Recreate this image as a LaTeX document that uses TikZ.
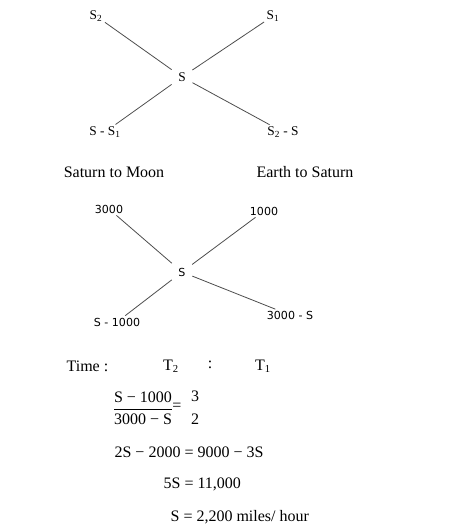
\documentclass[tikz,border=0pt]{standalone}
\usepackage{fontspec}
\setmainfont{Liberation Serif}
\newfontfamily\labelsans{DejaVu Sans}
\usetikzlibrary{positioning}
\definecolor{ink}{HTML}{000000}
\definecolor{legc}{HTML}{4D4D4D}

\begin{document}
\begin{tikzpicture}[
  x=0.75pt, y=-0.75pt,
  every node/.style={font=\fontsize{12}{14}\selectfont, color=ink, inner sep=1pt},
  tag/.style={font=\fontsize{10}{12}\selectfont, inner sep=0.5pt},
  numtag/.style={font=\labelsans\fontsize{8.3}{10}\selectfont, inner sep=0.5pt},
  hub/.style={inner sep=4pt},
  leg/.style={draw=legc, line width=0.6pt, shorten <=1.5pt, shorten >=1pt}
]
\useasboundingbox (0,0) rectangle (471,530);

% Upper cross
\node[tag, hub] (sa) at (182,77) {S};
\node[tag] (sa2)  at (96,16)   {S\textsubscript{2}};
\node[tag] (sa1)  at (273,16)  {S\textsubscript{1}};
\node[tag] (sas1) at (105,132) {S - S\textsubscript{1}};
\node[tag] (sa2s) at (283,132) {S\textsubscript{2} - S};

\foreach \a in {sa2, sa1, sas1, sa2s} {
  \draw[leg] (\a) -- (sa);
}

% Headings
\node (satmoon)  at (114,172) {Saturn to Moon};
\node (earthsat) at (305,172) {Earth to Saturn};

% Lower cross
\node[numtag, hub] (sb) at (182,272) {S};
\node[numtag] (sb3000)  at (109,209) {3000};
\node[numtag] (sb1000)  at (264,211) {1000};
\node[numtag] (sbminus) at (117,322) {S - 1000};
\node[numtag] (sbrest)  at (290,315) {3000 - S};

\foreach \a in {sb3000, sb1000, sbminus, sbrest} {
  \draw[leg] (\a) -- (sb);
}

% Time ratio
\node[anchor=west] (time) at (65,366) {Time :};
\node (t2)    at (171,366) {T\textsubscript{2}};
\node (colon) at (210,365) {:};
\node (t1)    at (263,366) {T\textsubscript{1}};

% Working
\node (frac)  at (143,408) {$\displaystyle\frac{\mbox{S − 1000}\rule[-3pt]{0pt}{3pt}}{\mbox{3000 − S}}$};
\node (eq)    at (177,407) {=};
\node (three) at (195,396) {3};
\node (two)   at (195,419) {2};
\node[anchor=west] (line1) at (113,452) {2S − 2000 = 9000 − 3S};
\node[anchor=west] (line2) at (162,484) {5S = 11,000};
\node[anchor=west] (line3) at (169,517) {S = 2,200 miles/ hour};

\end{tikzpicture}
\end{document}
